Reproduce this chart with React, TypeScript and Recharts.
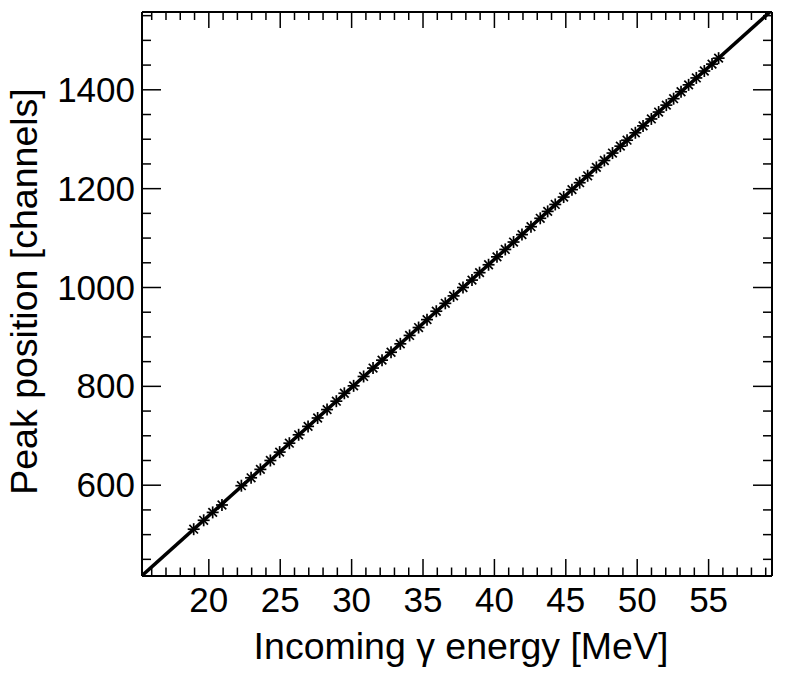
import { ScatterChart, Scatter, XAxis, YAxis } from "recharts";

// peak positions
const energy = [
  18.94, 19.64, 20.27, 20.92, 22.28, 22.96, 23.61, 24.31, 24.96, 25.64,
  26.29, 26.95, 27.62, 28.28, 28.93, 29.49, 30.14, 30.84, 31.5, 32.13,
  32.76, 33.41, 34.06, 34.69, 35.28, 35.93, 36.56, 37.14, 37.8, 38.43,
  38.96, 39.59, 40.18, 40.76, 41.34, 41.93, 42.56, 43.21, 43.73, 44.26,
  44.85, 45.43, 45.97, 46.53, 47.14, 47.7, 48.27, 48.82, 49.29, 49.87,
  50.41, 50.99, 51.5, 52.04, 52.55, 53.07, 53.6, 54.14, 54.7, 55.24, 55.7,
];
const peak = [
  511, 529, 545, 560, 599, 615, 632, 650, 667, 685,
  702, 719, 736, 753, 770, 786, 801, 820, 837, 853,
  869, 886, 903, 919, 935, 952, 968, 983, 1000, 1015,
  1030, 1046, 1062, 1077, 1092, 1107, 1123, 1140, 1154, 1168,
  1183, 1198, 1212, 1226, 1243, 1257, 1272, 1286, 1298, 1313,
  1327, 1341, 1355, 1369, 1382, 1396, 1410, 1424, 1438, 1452, 1464,
];

// linear fit, drawn corner to corner
const fitEnergy = [15.32, 59.28];
const fitPeak = [417, 1557];

const xTicks = [
  16, 17, 18, 19, 20, 21, 22, 23, 24, 25, 26, 27, 28, 29, 30, 31, 32, 33, 34,
  35, 36, 37, 38, 39, 40, 41, 42, 43, 44, 45, 46, 47, 48, 49, 50, 51, 52, 53,
  54, 55, 56, 57, 58, 59,
];
const yTicks = [
  450, 500, 550, 600, 650, 700, 750, 800, 850, 900, 950, 1000, 1050, 1100,
  1150, 1200, 1250, 1300, 1350, 1400, 1450, 1500, 1550,
];

const points = energy.map((e, i) => ({ e, p: peak[i] }));
const fit = fitEnergy.map((e, i) => ({ e, p: fitPeak[i] }));

const FONT = "'Liberation Sans', Arial, Helvetica, sans-serif";

const Star = (props: any) => {
  const { cx, cy } = props;
  const r = 6;
  const d = 4.3;
  return (
    <g stroke="#000" strokeWidth={1.7}>
      <line x1={cx - r} y1={cy} x2={cx + r} y2={cy} />
      <line x1={cx} y1={cy - r} x2={cx} y2={cy + r} />
      <line x1={cx - d} y1={cy - d} x2={cx + d} y2={cy + d} />
      <line x1={cx - d} y1={cy + d} x2={cx + d} y2={cy - d} />
    </g>
  );
};

const NoShape = () => <g />;

const BottomTick = (props: any) => {
  const { x, y, payload } = props;
  const major = payload.value % 5 === 0;
  return (
    <g>
      <line x1={x} y1={y} x2={x} y2={y - (major ? 17 : 8.5)} stroke="#000" strokeWidth={1.5} />
      {major && (
        <text x={x} y={y + 36} textAnchor="middle" fontSize={35} fontFamily={FONT} fill="#000">
          {payload.value}
        </text>
      )}
    </g>
  );
};

const TopTick = (props: any) => {
  const { x, y, payload } = props;
  const major = payload.value % 5 === 0;
  return <line x1={x} y1={y} x2={x} y2={y + (major ? 16 : 8)} stroke="#000" strokeWidth={1.5} />;
};

const LeftTick = (props: any) => {
  const { x, y, payload } = props;
  const major = payload.value % 200 === 0;
  return (
    <g>
      <line x1={x} y1={y} x2={x + (major ? 19 : 9)} y2={y} stroke="#000" strokeWidth={1.5} />
      {major && (
        <text x={x - 7} y={y + 12} textAnchor="end" fontSize={35} fontFamily={FONT} fill="#000">
          {payload.value}
        </text>
      )}
    </g>
  );
};

const RightTick = (props: any) => {
  const { x, y, payload } = props;
  const major = payload.value % 200 === 0;
  return <line x1={x} y1={y} x2={x - (major ? 19 : 9)} y2={y} stroke="#000" strokeWidth={1.5} />;
};

const XTitle = (props: any) => {
  const vb = props.viewBox;
  return (
    <text x={vb.x + vb.width / 2 + 4} y={vb.y + 83} textAnchor="middle" fontSize={37.5} fontFamily={FONT} fill="#000">
      Incoming γ energy [MeV]
    </text>
  );
};

const YTitle = (props: any) => {
  const vb = props.viewBox;
  const cx = 29;
  const cy = vb.y + vb.height / 2 - 2.5;
  return (
    <text
      x={cx}
      y={cy}
      transform={`rotate(-90, ${cx}, ${cy})`}
      textAnchor="middle"
      fontSize={37.5}
      fontFamily={FONT}
      fill="#000"
    >
      Peak position [channels]
    </text>
  );
};

const frame = { stroke: "#000", strokeWidth: 2 };

export default function App() {
  return (
    <ScatterChart width={780} height={671} margin={{ top: 3, right: 15, left: 0, bottom: 0 }}>
      <XAxis
        xAxisId="b"
        type="number"
        dataKey="e"
        orientation="bottom"
        domain={[15.32, 59.44]}
        allowDataOverflow
        ticks={xTicks}
        interval={0}
        tickSize={0}
        tickMargin={0}
        height={103}
        axisLine={frame}
        tickLine={false}
        tick={<BottomTick />}
        label={{ content: <XTitle /> }}
      />
      <XAxis
        xAxisId="t"
        type="number"
        dataKey="e"
        orientation="top"
        domain={[15.32, 59.44]}
        allowDataOverflow
        ticks={xTicks}
        interval={0}
        tickSize={0}
        tickMargin={0}
        height={1}
        axisLine={frame}
        tickLine={false}
        tick={<TopTick />}
      />
      <YAxis
        yAxisId="l"
        type="number"
        dataKey="p"
        orientation="left"
        domain={[416.3, 1557.4]}
        allowDataOverflow
        ticks={yTicks}
        interval={0}
        tickSize={0}
        tickMargin={0}
        width={134}
        axisLine={frame}
        tickLine={false}
        tick={<LeftTick />}
        label={{ content: <YTitle /> }}
      />
      <YAxis
        yAxisId="r"
        type="number"
        dataKey="p"
        orientation="right"
        domain={[416.3, 1557.4]}
        allowDataOverflow
        ticks={yTicks}
        interval={0}
        tickSize={0}
        tickMargin={0}
        width={1}
        axisLine={frame}
        tickLine={false}
        tick={<RightTick />}
      />
      <Scatter
        xAxisId="b"
        yAxisId="l"
        data={points}
        shape={<Star />}
        isAnimationActive={false}
      />
      <Scatter
        xAxisId="b"
        yAxisId="l"
        data={fit}
        line={{ stroke: "#000", strokeWidth: 3.5 }}
        shape={<NoShape />}
        isAnimationActive={false}
      />
    </ScatterChart>
  );
}
